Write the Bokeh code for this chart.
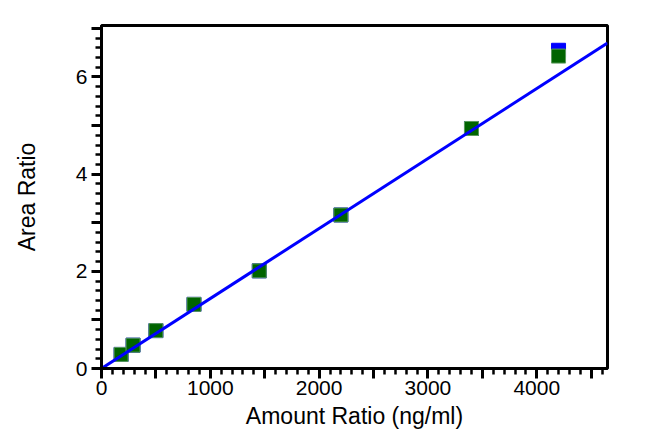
from bokeh.plotting import figure
from bokeh.models import SingleIntervalTicker, CustomJSTickFormatter, Range1d
from bokeh.embed import file_html
from bokeh.resources import INLINE

# Data
amount_ratio = [180, 290, 500, 850, 1450, 2200, 3400, 4200]
area_ratio_green = [0.29, 0.48, 0.78, 1.32, 2.01, 3.16, 4.94, 6.43]
area_ratio_blue = [0.29, 0.48, 0.78, 1.32, 2.01, 3.16, 4.94, 6.55]
fit_x = [0, 4650]
fit_y = [0, 6.70]
x_title = "Amount Ratio (ng/ml)"
y_title = "Area Ratio"

FONT = "Liberation Sans"

p = figure(width=645, height=440, output_backend="svg", toolbar_location=None,
           x_range=Range1d(0, 4650), y_range=Range1d(0, 7.06),
           min_border_left=101, min_border_right=38, min_border_top=25, min_border_bottom=72)

p.background_fill_color = "white"
p.border_fill_color = "white"
p.outline_line_color = "black"
p.outline_line_width = 3
p.xgrid.visible = False
p.ygrid.visible = False

p.scatter(amount_ratio, area_ratio_blue, marker="square", size=14,
          fill_color="#0000ff", line_color="#0000ff")
p.scatter(amount_ratio, area_ratio_green, marker="square", size=14,
          fill_color="#006400", line_color="#5c9c5c", line_width=1)
p.line(fit_x, fit_y, line_color="#0000ff", line_width=3)

# X axis
xa = p.xaxis[0]
xa.ticker = SingleIntervalTicker(interval=500, num_minor_ticks=5)
xa.formatter = CustomJSTickFormatter(code="return (Math.round(tick) % 1000 == 0) ? tick.toFixed(0) : '';")
xa.axis_label = x_title

# Y axis
ya = p.yaxis[0]
ya.ticker = SingleIntervalTicker(interval=1, num_minor_ticks=5)
ya.formatter = CustomJSTickFormatter(code="return (Math.round(tick) % 2 == 0) ? tick.toFixed(0) : '';")
ya.axis_label = y_title

for ax in (xa, ya):
    ax.axis_line_width = 3
    ax.axis_line_color = "black"
    ax.major_tick_line_width = 3
    ax.minor_tick_line_width = 2.5
    ax.major_tick_out = 10
    ax.major_tick_in = 0
    ax.minor_tick_out = 6
    ax.minor_tick_in = 0
    ax.major_label_text_font = FONT
    ax.major_label_text_font_size = "21px"
    ax.major_label_text_color = "black"
    ax.axis_label_text_font = FONT
    ax.axis_label_text_font_size = "23px"
    ax.axis_label_text_font_style = "normal"
    ax.axis_label_text_color = "black"

xa.major_label_standoff = 2
xa.axis_label_standoff = 5
ya.major_label_standoff = 4
ya.axis_label_standoff = 33

open("out.html", "w").write(file_html(p, INLINE))
